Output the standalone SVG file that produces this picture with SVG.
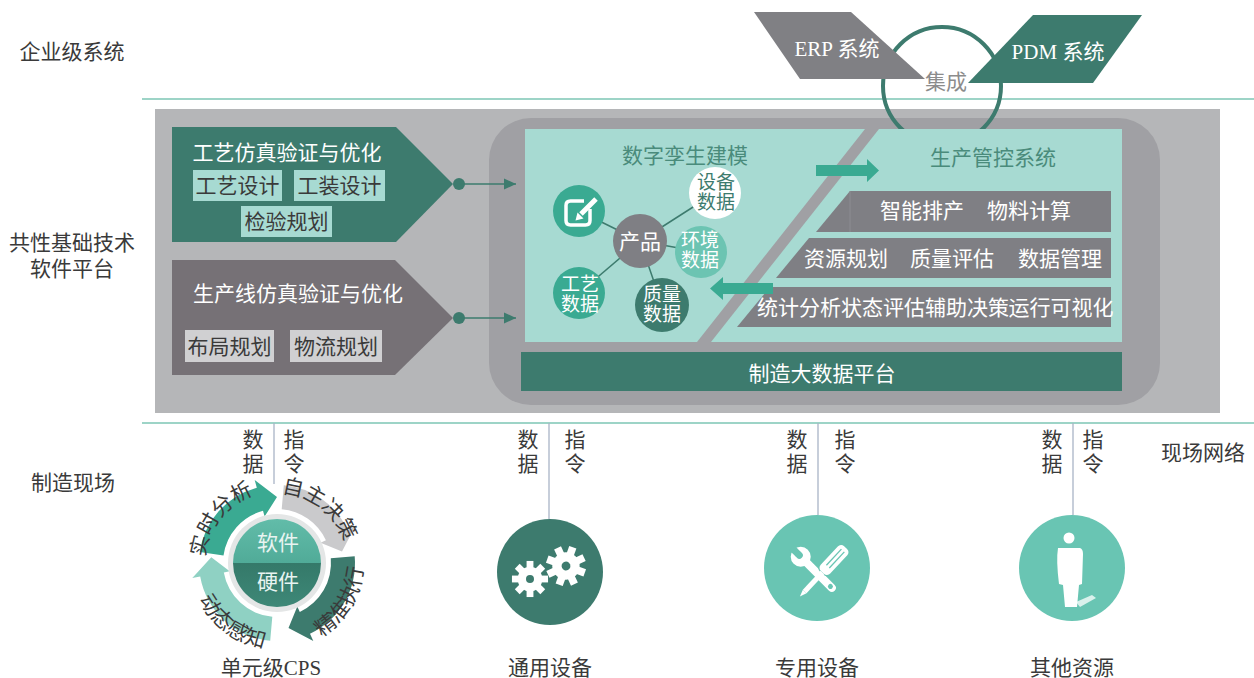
<svg xmlns="http://www.w3.org/2000/svg" width="1254" height="678" viewBox="0 0 1254 678">
  <style>
    text { font-family: "Liberation Serif", "Noto Sans CJK SC", serif; font-size: 21px; }
    .c { text-anchor: middle; }
    .dk { fill: #3a3a3a; }
    .wt { fill: #ffffff; }
    .tl { fill: #4a8b7b; }
    .sep { stroke: #7cc6b5; stroke-width: 1.5; }
    .vline { stroke: #a9b4c6; stroke-width: 1.3; }
    .link { stroke: #3d7b6e; stroke-width: 1.5; fill: none; }
    .bar { fill: #7f7f84; }
    .nd { font-size: 19px; }
  </style>
  <defs>
    <marker id="tri" markerUnits="userSpaceOnUse" markerWidth="12" markerHeight="12" viewBox="0 0 12 12" refX="12" refY="6" orient="auto">
      <path d="M0,0.5 L12,6 L0,11.5 Z" fill="#3d7b6e"/>
    </marker>
    <linearGradient id="softTop" x1="0" y1="0" x2="0" y2="1">
      <stop offset="0" stop-color="#62bca9"/>
      <stop offset="1" stop-color="#3f9a87"/>
    </linearGradient>
    <linearGradient id="softBot" x1="0" y1="0" x2="0" y2="1">
      <stop offset="0" stop-color="#2b6a5c"/>
      <stop offset="1" stop-color="#3e8877"/>
    </linearGradient>
    <clipPath id="topHalf"><rect x="220" y="505" width="120" height="58"/></clipPath>
    <clipPath id="botHalf"><rect x="220" y="563" width="120" height="60"/></clipPath>
    <g id="gear">
      <circle r="13" fill="#fff"/>
      <rect x="-3.6" y="-19" width="7.2" height="9" fill="#fff"/>
      <rect x="-3.6" y="-19" width="7.2" height="9" fill="#fff" transform="rotate(45)"/>
      <rect x="-3.6" y="-19" width="7.2" height="9" fill="#fff" transform="rotate(90)"/>
      <rect x="-3.6" y="-19" width="7.2" height="9" fill="#fff" transform="rotate(135)"/>
      <rect x="-3.6" y="-19" width="7.2" height="9" fill="#fff" transform="rotate(180)"/>
      <rect x="-3.6" y="-19" width="7.2" height="9" fill="#fff" transform="rotate(225)"/>
      <rect x="-3.6" y="-19" width="7.2" height="9" fill="#fff" transform="rotate(270)"/>
      <rect x="-3.6" y="-19" width="7.2" height="9" fill="#fff" transform="rotate(315)"/>
      <circle r="4.2" fill="#3d7b6e"/>
    </g>
    <path id="arcA" d="M210.2,590 A72,72 0 0 1 287,491.7"/>
    <path id="arcB" d="M250.8,498.1 A70,70 0 0 1 346.3,572.7"/>
    <path id="arcC" d="M275.5,649 A86,86 0 0 0 352.2,521.3"/>
    <path id="arcD" d="M191.6,552.5 A86,86 0 0 0 310.6,642.2"/>
  </defs>

  <rect width="1254" height="678" fill="#ffffff"/>

  <!-- layer labels -->
  <g id="layer-labels">
    <text class="c dk" x="72" y="59">企业级系统</text>
    <text class="c dk" x="72" y="250">共性基础技术</text>
    <text class="c dk" x="72" y="276">软件平台</text>
    <text class="c dk" x="73" y="490">制造现场</text>
    <text class="c dk" x="1203" y="460">现场网络</text>
  </g>

  <!-- layer separators -->
  <line class="sep" x1="142" y1="99" x2="1254" y2="99"/>
  <line class="sep" x1="142" y1="423" x2="1254" y2="423"/>

  <!-- platform background -->
  <g id="platform">
    <rect x="155" y="109" width="1065" height="304" fill="#b5b6b8"/>
    <rect x="489" y="118" width="671" height="287" rx="42" fill="#a0a0a4"/>
  </g>

  <!-- enterprise systems -->
  <g id="integration">
    <circle cx="942" cy="86" r="59" fill="none" stroke="#3d7b6e" stroke-width="4"/>
  </g>
  <g id="erp">
    <polygon points="754,12 851,12 925,79 800,79" fill="#808084"/>
    <text class="c wt" x="837" y="56" font-size="20">ERP 系统</text>
  </g>
  <g id="pdm">
    <polygon points="1033,15 1142,15 1093,83 968,83" fill="#3d7b6e"/>
    <text class="c wt" x="1058" y="59" font-size="20">PDM 系统</text>
  </g>
  <text class="c" x="946" y="89" fill="#8c8c8c" font-size="20">集成</text>

  <!-- process simulation -->
  <g id="process-sim">
    <polygon points="172,127 396,127 453,184 396,242 172,242" fill="#3d7b6e"/>
    <text class="c wt" x="287" y="160">工艺仿真验证与优化</text>
    <rect x="193" y="170" width="89" height="31" fill="#a7dad2"/>
    <rect x="294" y="170" width="91" height="31" fill="#a7dad2"/>
    <rect x="241" y="206" width="91" height="31" fill="#a7dad2"/>
    <text class="c dk" x="237.5" y="193">工艺设计</text>
    <text class="c dk" x="339.5" y="193">工装设计</text>
    <text class="c dk" x="286.5" y="229">检验规划</text>
  </g>

  <!-- production line simulation -->
  <g id="line-sim">
    <polygon points="172,260 395,260 453,318 395,375 172,375" fill="#767176"/>
    <text class="c wt" x="298" y="301">生产线仿真验证与优化</text>
    <rect x="185" y="330" width="89" height="32" fill="#d0d0d2"/>
    <rect x="290" y="330" width="92" height="32" fill="#d0d0d2"/>
    <text class="c dk" x="229.5" y="354">布局规划</text>
    <text class="c dk" x="336" y="354">物流规划</text>
  </g>

  <!-- twin / control panel -->
  <g id="core-panel">
    <rect x="525" y="129" width="597" height="213" fill="#a7dad2"/>
    <polygon points="865,129 879,129 711,342 697,342" fill="#a0a0a4"/>
  </g>

  <g id="twin-modeling">
    <text class="c tl" x="685" y="163">数字孪生建模</text>
  </g>

  <g id="control-system">
    <text class="c tl" x="993" y="165">生产管控系统</text>
    <polygon class="bar" points="850,191 1111,191 1111,232 816,232"/>
    <line x1="850" y1="191" x2="850" y2="232" stroke="#8d8d92" stroke-width="1"/>
    <text class="c wt" x="922" y="218">智能排产</text>
    <text class="c wt" x="1029" y="218">物料计算</text>
    <polygon class="bar" points="809,238 1111,238 1111,278 776,278"/>
    <text class="c wt" x="846" y="266">资源规划</text>
    <text class="c wt" x="952" y="266">质量评估</text>
    <text class="c wt" x="1060" y="266">数据管理</text>
    <polygon class="bar" points="770,287 1111,287 1111,327 737,327"/>
    <text class="c wt" x="799" y="315" font-size="18.5">统计分析</text>
    <text class="c wt" x="883" y="315" font-size="18.5">状态评估</text>
    <text class="c wt" x="967" y="315" font-size="18.5">辅助决策</text>
    <text class="c wt" x="1061" y="315" font-size="18.5">运行可视化</text>
  </g>

  <g id="big-data">
    <rect x="521" y="352" width="601" height="39" fill="#3d7b6e"/>
    <text class="c wt" x="822" y="381">制造大数据平台</text>
  </g>

  <!-- connectors -->
  <g id="connectors">
    <circle cx="459" cy="184" r="6" fill="#3d7b6e"/>
    <line class="link" x1="459" y1="184" x2="516" y2="184" marker-end="url(#tri)"/>
    <circle cx="459" cy="318" r="6" fill="#3d7b6e"/>
    <line class="link" x1="459" y1="318" x2="516" y2="318" marker-end="url(#tri)"/>
    <line class="link" x1="640" y1="241" x2="579" y2="211"/>
    <line class="link" x1="640" y1="241" x2="715" y2="193"/>
    <line class="link" x1="640" y1="241" x2="701" y2="252"/>
    <line class="link" x1="640" y1="241" x2="579" y2="293"/>
    <line class="link" x1="640" y1="241" x2="662" y2="305"/>
    <polygon points="816,165 867,165 867,159 879,170.5 867,182 867,176 816,176" fill="#3aaa92"/>
    <polygon points="773,283 723,283 723,277 710,288.5 723,300 723,294 773,294" fill="#3aaa92"/>
    <line class="vline" x1="274" y1="423" x2="274" y2="484"/>
    <line class="vline" x1="549" y1="423" x2="549" y2="519"/>
    <line class="vline" x1="818" y1="423" x2="818" y2="515"/>
    <line class="vline" x1="1073" y1="423" x2="1073" y2="515"/>
  </g>

  <!-- twin data nodes -->
  <g id="node-edit">
    <circle cx="579" cy="211" r="26" fill="#3aaa92"/>
    <path d="M584,201 H570.5 Q566,201 566,205.5 V220.5 Q566,225 570.5,225 H585.5 Q590,225 590,220.5 V209" fill="none" stroke="#fff" stroke-width="3.5"/>
    <line x1="581" y1="214" x2="596" y2="199" stroke="#fff" stroke-width="5"/>
    <polygon points="575.5,220.5 577.5,212.5 583.5,218.5" fill="#fff"/>
  </g>
  <g id="node-product">
    <circle cx="640" cy="241" r="27" fill="#7f7f84"/>
    <text class="c wt" x="640" y="249">产品</text>
  </g>
  <g id="node-equipment-data">
    <circle cx="715" cy="193" r="26" fill="#ffffff"/>
    <text class="c nd" x="716" y="189" fill="#3d7b6e">设备</text>
    <text class="c nd" x="716" y="209" fill="#3d7b6e">数据</text>
  </g>
  <g id="node-env-data">
    <circle cx="701" cy="252" r="26" fill="#6cc4b2"/>
    <text class="c wt nd" x="700" y="247">环境</text>
    <text class="c wt nd" x="700" y="267">数据</text>
  </g>
  <g id="node-process-data">
    <circle cx="579" cy="293" r="26" fill="#3aaa92"/>
    <text class="c wt nd" x="580" y="291">工艺</text>
    <text class="c wt nd" x="580" y="311">数据</text>
  </g>
  <g id="node-quality-data">
    <circle cx="662" cy="305" r="27" fill="#3d7b6e"/>
    <text class="c wt nd" x="662" y="301">质量</text>
    <text class="c wt nd" x="662" y="321">数据</text>
  </g>

  <!-- field level: unit CPS -->
  <g id="unit-cps">
    <path d="M270.2,640.7 A78,78 0 0 1 200.2,576.5 L192.3,577.9 L211.3,557.2 L229.7,571.3 L223.8,572.4 A54,54 0 0 0 272.3,616.8 Z" fill="#8fd1c3"/>
    <path d="M199.8,552.1 A78,78 0 0 1 256.8,487.7 L254.7,479.9 L277,497 L264.6,516.6 L263,510.8 A54,54 0 0 0 223.5,555.5 Z" fill="#3aaa92"/>
    <path d="M283.8,485.3 A78,78 0 0 1 347.7,530 L354.9,526.7 L342,551.5 L320.5,542.7 L325.9,540.2 A54,54 0 0 0 281.7,509.2 Z" fill="#cacacc"/>
    <path d="M354.7,556.2 A78,78 0 0 1 310,633.7 L313.3,640.9 L288.5,628 L297.3,606.5 L299.8,611.9 A54,54 0 0 0 330.8,558.3 Z" fill="#3d7b6e"/>
    <circle cx="277" cy="563" r="49" fill="#e4e6e6"/>
    <circle cx="277" cy="563" r="44" fill="url(#softTop)" clip-path="url(#topHalf)"/>
    <circle cx="277" cy="563" r="44" fill="url(#softBot)" clip-path="url(#botHalf)"/>
    <text class="c" x="278" y="550" fill="#e8f4f1">软件</text>
    <text class="c" x="278" y="589" fill="#e8f4f1">硬件</text>
    <text class="dk"><textPath href="#arcA" startOffset="50%" text-anchor="middle">实时分析</textPath></text>
    <text class="dk"><textPath href="#arcB" startOffset="50%" text-anchor="middle">自主决策</textPath></text>
    <text class="dk"><textPath href="#arcC" startOffset="50%" text-anchor="middle">精准执行</textPath></text>
    <text class="dk"><textPath href="#arcD" startOffset="50%" text-anchor="middle">动态感知</textPath></text>
    <text class="c dk" x="253" y="447">数</text>
    <text class="c dk" x="253" y="471">据</text>
    <text class="c dk" x="294" y="447">指</text>
    <text class="c dk" x="294" y="471">令</text>
    <text class="c dk" x="271" y="675">单元级CPS</text>
  </g>

  <!-- field level: general equipment -->
  <g id="general-equipment">
    <circle cx="550" cy="572" r="53" fill="#3d7b6e"/>
    <use href="#gear" transform="translate(530,579) scale(0.95)"/>
    <use href="#gear" transform="translate(566,566) rotate(20) scale(1.05)"/>
    <text class="c dk" x="528" y="447">数</text>
    <text class="c dk" x="528" y="471">据</text>
    <text class="c dk" x="575" y="447">指</text>
    <text class="c dk" x="575" y="471">令</text>
    <text class="c dk" x="550" y="675">通用设备</text>
  </g>

  <!-- field level: special equipment -->
  <g id="special-equipment">
    <circle cx="817" cy="568" r="53" fill="#69c5b3"/>
    <g transform="translate(817,573) rotate(-45)">
      <rect x="-4" y="-20" width="8" height="45" rx="4" fill="#fff"/>
      <circle cx="0" cy="-23" r="10" fill="#fff"/>
      <rect x="-3.5" y="-36" width="7" height="10" fill="#69c5b3"/>
      <circle cx="0" cy="-25" r="3.5" fill="#69c5b3"/>
      <circle cx="0" cy="19" r="2.5" fill="#69c5b3"/>
    </g>
    <g transform="translate(834,560) rotate(43)">
      <rect x="-7.5" y="-18" width="15" height="36" rx="5" fill="#69c5b3"/>
      <rect x="-6.5" y="-17" width="13" height="34" rx="4.5" fill="#fff"/>
      <line x1="-2" y1="-13" x2="-2" y2="9" stroke="#69c5b3" stroke-width="1.3"/>
      <line x1="2" y1="-13" x2="2" y2="9" stroke="#69c5b3" stroke-width="1.3"/>
      <rect x="-2.5" y="17" width="5" height="26" fill="#fff"/>
      <polygon points="-2.5,43 2.5,43 0,50" fill="#fff"/>
    </g>
    <text class="c dk" x="797" y="447">数</text>
    <text class="c dk" x="797" y="471">据</text>
    <text class="c dk" x="845" y="447">指</text>
    <text class="c dk" x="845" y="471">令</text>
    <text class="c dk" x="817" y="675">专用设备</text>
  </g>

  <!-- field level: other resources -->
  <g id="other-resources">
    <circle cx="1072" cy="568" r="53" fill="#69c5b3"/>
    <polygon points="1076,602 1092,595 1096,598 1080,607" fill="#ffffff" opacity="0.75"/>
    <circle cx="1069" cy="538" r="5.5" fill="#fff"/>
    <path d="M1058,548 L1080,548 Q1083,549 1083,554 L1082,584 L1079,585 L1077,607 L1065,607 L1063,585 L1059,584 Q1056,560 1058,548 Z" fill="#fff"/>
    <text class="c dk" x="1052" y="447">数</text>
    <text class="c dk" x="1052" y="471">据</text>
    <text class="c dk" x="1093" y="447">指</text>
    <text class="c dk" x="1093" y="471">令</text>
    <text class="c dk" x="1072" y="675">其他资源</text>
  </g>
</svg>
